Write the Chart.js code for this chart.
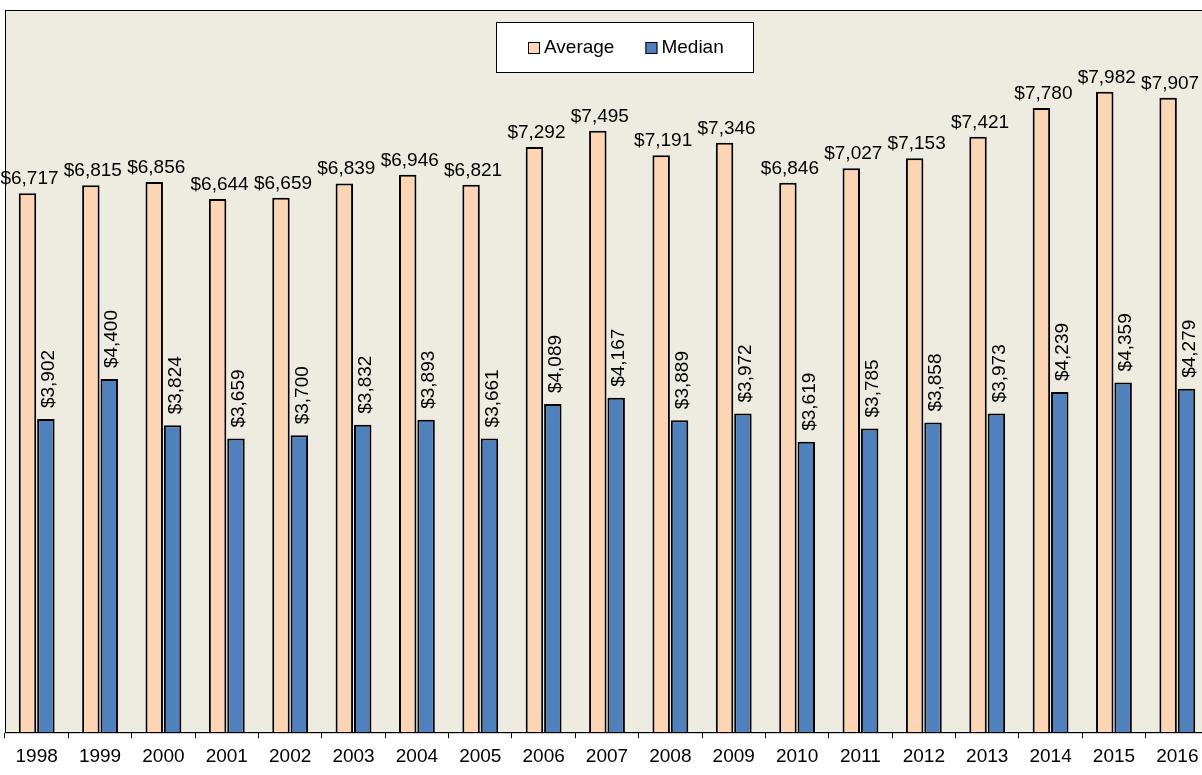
<!DOCTYPE html>
<html>
<head>
<meta charset="utf-8">
<title>Average and Median</title>
<script src="https://cdn.jsdelivr.net/npm/chart.js@4.4.1/dist/chart.umd.min.js"></script>
<style>
    html, body { margin: 0; padding: 0; background: #fff; overflow: hidden; }
    canvas { display: block; }
</style>
</head>
<body>
<canvas id="costChart" width="1212" height="775"></canvas>
<script>
const years = ['1998', '1999', '2000', '2001', '2002', '2003', '2004', '2005', '2006', '2007',
    '2008', '2009', '2010', '2011', '2012', '2013', '2014', '2015', '2016'];
const averageCost = [6717, 6815, 6856, 6644, 6659, 6839, 6946, 6821, 7292, 7495,
    7191, 7346, 6846, 7027, 7153, 7421, 7780, 7982, 7907];
const medianCost = [3902, 4400, 3824, 3659, 3700, 3832, 3893, 3661, 4089, 4167,
    3889, 3972, 3619, 3785, 3858, 3973, 4239, 4359, 4279];
const yMax = 9000;

const FONT = '"Liberation Sans", Arial, sans-serif';
const plotBg = '#EEECE1';

const money = (v) => '$' + Number(v).toLocaleString('en-US');

// plot area fill + frame
const plotFrame = {
    id: 'plotFrame',
    beforeDraw(chart) {
        const { ctx, chartArea: a } = chart;
        ctx.save();
        ctx.fillStyle = plotBg;
        ctx.fillRect(a.left, a.top, a.right - a.left, a.bottom - a.top);
        ctx.restore();
    },
    afterDatasetsDraw(chart) {
        const { ctx, chartArea: a } = chart;
        ctx.save();
        ctx.strokeStyle = '#000';
        ctx.lineWidth = 1;
        ctx.strokeRect(a.left + 0.5, a.top + 0.5, a.right - a.left, a.bottom - a.top);
        ctx.restore();
    },
};

// value labels: average flat above bar, median rotated
const valueLabels = {
    id: 'valueLabels',
    afterDatasetsDraw(chart) {
        const { ctx } = chart;
        ctx.save();
        ctx.fillStyle = '#000';
        ctx.font = `19px ${FONT}`;
        chart.data.datasets.forEach((ds, i) => {
            const meta = chart.getDatasetMeta(i);
            meta.data.forEach((bar, j) => {
                const text = money(ds.data[j]);
                if (i === 0) {
                    ctx.textAlign = 'center';
                    ctx.textBaseline = 'alphabetic';
                    ctx.fillText(text, bar.x + 2, bar.y - 9);
                } else {
                    ctx.save();
                    ctx.translate(bar.x + 3, bar.y - 11);
                    ctx.rotate(-Math.PI / 2);
                    ctx.textAlign = 'left';
                    ctx.textBaseline = 'middle';
                    ctx.fillText(text, 0, 0);
                    ctx.restore();
                }
            });
        });
        ctx.restore();
    },
};

// boxed legend at the top
const boxLegend = {
    id: 'boxLegend',
    afterDraw(chart) {
        const { ctx } = chart;
        const left = 496, top = 22, w = 257, h = 50;
        const cy = top + h / 2 + 1;
        ctx.save();
        ctx.fillStyle = '#fff';
        ctx.fillRect(left, top, w, h);
        ctx.strokeStyle = '#000';
        ctx.lineWidth = 1;
        ctx.strokeRect(left + 0.5, top + 0.5, w, h);
        ctx.font = `19px ${FONT}`;
        ctx.textBaseline = 'middle';
        ctx.textAlign = 'left';
        let x = left + 32;
        chart.data.datasets.forEach((ds) => {
            ctx.fillStyle = ds.backgroundColor;
            ctx.fillRect(x, cy - 6, 12, 12);
            ctx.strokeStyle = '#000';
            ctx.strokeRect(x + 0.5, cy - 5.5, 11, 11);
            ctx.fillStyle = '#000';
            ctx.fillText(ds.label, x + 16, cy);
            x += 16 + ctx.measureText(ds.label).width + 31;
        });
        ctx.restore();
    },
};

new Chart(document.getElementById('costChart'), {
    type: 'bar',
    data: {
        labels: years,
        datasets: [
            {
                label: 'Average',
                data: averageCost,
                backgroundColor: '#FCD5B4',
                borderColor: '#000',
                borderWidth: 2,
                categoryPercentage: 0.58,
                barPercentage: 0.95,
            },
            {
                label: 'Median',
                data: medianCost,
                backgroundColor: '#4F81BD',
                borderColor: '#000',
                borderWidth: 2,
                categoryPercentage: 0.58,
                barPercentage: 0.95,
            },
        ],
    },
    options: {
        responsive: false,
        animation: false,
        layout: { padding: { left: 5, top: 10, right: 3, bottom: 0 } },
        plugins: {
            legend: { display: false },
            tooltip: { enabled: false },
        },
        scales: {
            x: {
                grid: {
                    display: true,
                    drawOnChartArea: false,
                    drawTicks: true,
                    tickLength: 6,
                    color: '#000',
                    lineWidth: 1,
                },
                border: { display: true, color: '#000', width: 1 },
                ticks: {
                    color: '#000',
                    font: { family: FONT, size: 19 },
                    padding: 7,
                    maxRotation: 0,
                    autoSkip: false,
                },
            },
            y: {
                display: false,
                min: 0,
                max: yMax,
            },
        },
    },
    plugins: [plotFrame, valueLabels, boxLegend],
});
</script>
</body>
</html>
